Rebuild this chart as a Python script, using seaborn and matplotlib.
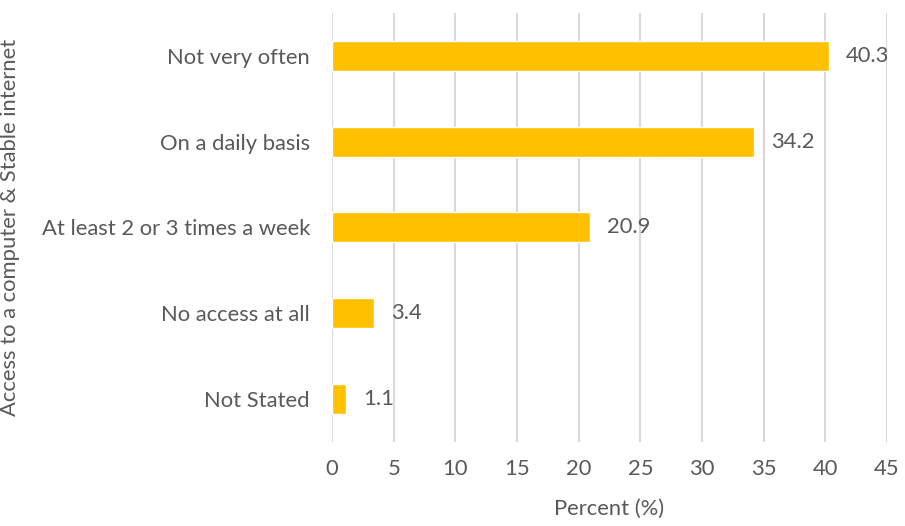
import matplotlib
matplotlib.use("Agg")
import matplotlib.pyplot as plt
import seaborn as sns
import pandas as pd

categories = ["Not very often", "On a daily basis", "At least 2 or 3 times a week",
              "No access at all", "Not Stated"]
values = [40.3, 34.2, 20.9, 3.4, 1.1]
xticks = [0, 5, 10, 15, 20, 25, 30, 35, 40, 45]

df = pd.DataFrame({"cat": categories, "val": values})

sns.set_theme(style="white")
plt.rcParams['font.family'] = ['Lato', 'DejaVu Sans']
txt = "#595959"
fs = 15.8

fig = plt.figure(figsize=(9.05, 5.26), dpi=100)
ax = fig.add_axes([0.367, 0.160, 0.613, 0.815])
sns.barplot(data=df, x="val", y="cat", color="#FFC000", width=0.35,
            saturation=1, ax=ax, zorder=3)
ax.set_xlim(0, 45)
ax.set_xticks(xticks)
ax.set_xticklabels([str(t) for t in xticks])
ax.grid(axis="x", color="#D9D9D9", linewidth=1.5, zorder=0)
ax.set_axisbelow(True)
for s in ax.spines.values():
    s.set_visible(False)
ax.tick_params(axis="both", length=0, labelsize=fs, colors=txt)
ax.tick_params(axis="y", pad=16)
ax.tick_params(axis="x", pad=12)
for i, v in enumerate(values):
    ax.text(v + 1.4, i, f"{v}", va="center", ha="left", fontsize=fs, color=txt)
ax.set_xlabel("Percent (%)", fontsize=fs, color=txt)
ax.set_ylabel("Access to a computer & Stable internet", fontsize=fs, color=txt)
ax.yaxis.set_label_coords(-0.562, 0.5)
ax.xaxis.set_label_coords(0.5, -0.133)
fig.savefig("out.png", dpi=100)
